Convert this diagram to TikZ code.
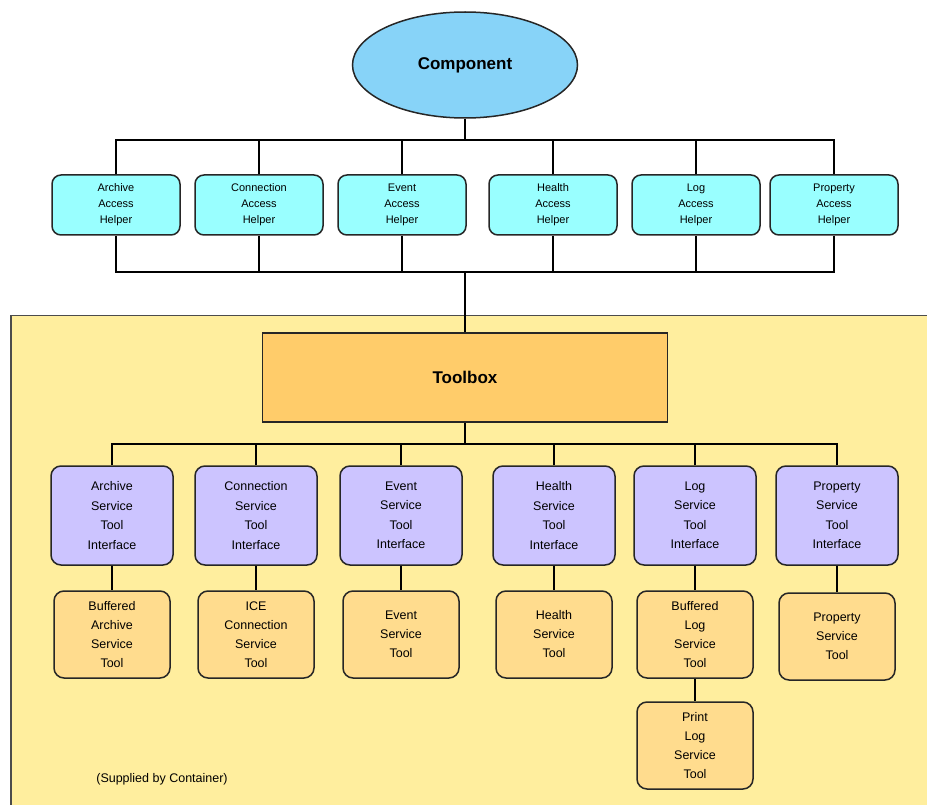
\documentclass[tikz,border=0pt]{standalone}
\usepackage{fontspec}
\setmainfont{Liberation Sans}
\usetikzlibrary{positioning, shapes.geometric}

\definecolor{compblue}{HTML}{87D3F8}
\definecolor{helpcyan}{HTML}{99FFFF}
\definecolor{ifacelav}{HTML}{CCC4FF}
\definecolor{toolorange}{HTML}{FFDC8E}
\definecolor{boxorange}{HTML}{FFCC6A}
\definecolor{contyellow}{HTML}{FFEE9E}

\begin{document}
\begin{tikzpicture}[x=1pt, y=-1pt,
        helper/.style={draw=black!85, fill=helpcyan, rounded corners=9pt, line width=1.5pt,
            minimum width=128pt, minimum height=60pt, align=center, inner sep=1pt,
            font=\fontsize{11}{16}\selectfont},
        iface/.style={draw=black!85, fill=ifacelav, rounded corners=10pt, line width=1.5pt,
            minimum width=122pt, minimum height=99pt, align=center, inner sep=1pt,
            font=\fontsize{12.5}{19.5}\selectfont},
        tool/.style={draw=black!85, fill=toolorange, rounded corners=10pt, line width=1.5pt,
            minimum width=116pt, minimum height=87pt, align=center, inner sep=1pt,
            font=\fontsize{12.5}{19}\selectfont},
        line/.style={draw=black, line width=1.6pt}
    ]
        \useasboundingbox (0,0) rectangle (927,805);
        \clip (0,0) rectangle (927,805);

        % === Container area ===
        \node[draw=black!70, fill=contyellow, line width=1.5pt, minimum width=940pt, minimum height=520pt,
            anchor=north west, inner sep=0pt] (cont) at (10,315) {};
        \node[font=\fontsize{12.5}{14}\selectfont] (supp) at (162,779) {(Supplied by Container)};

        % === Component and access helpers ===
        \node[ellipse, draw=black!85, fill=compblue, line width=1.5pt, minimum width=225pt, minimum height=106pt,
            font=\fontsize{17}{20}\selectfont\bfseries] (comp) at (465,65) {Component};

        \node[helper] (hArch) at (116,205) {Archive\\Access\\Helper};
        \node[helper] (hConn) at (259,205) {Connection\\Access\\Helper};
        \node[helper] (hEvt)  at (402,205) {Event\\Access\\Helper};
        \node[helper] (hHlth) at (553,205) {Health\\Access\\Helper};
        \node[helper] (hLog)  at (696,205) {Log\\Access\\Helper};
        \node[helper] (hProp) at (834,205) {Property\\Access\\Helper};

        \coordinate (topbus) at (465,140);
        \coordinate (midbus) at (465,272);
        \draw[line] (comp.south) -- (topbus);
        \foreach \h in {hArch,hConn,hEvt,hHlth,hLog,hProp} {
            \draw[line] (\h.north) |- (topbus);
            \draw[line] (\h.south) |- (midbus);
        }

        % === Toolbox ===
        \node[draw=black!85, fill=boxorange, line width=1.5pt, minimum width=405pt, minimum height=89pt,
            font=\fontsize{17}{20}\selectfont\bfseries] (tbox) at (465,377.5) {Toolbox};
        \draw[line] (midbus) -- (tbox.north);

        % Service tool interfaces
        \node[iface] (iArch) at (112,515.5) {Archive\\Service\\Tool\\Interface};
        \node[iface] (iConn) at (256,515.5) {Connection\\Service\\Tool\\Interface};
        \node[iface] (iEvt)  at (401,515.5) {Event\\Service\\Tool\\Interface};
        \node[iface] (iHlth) at (554,515.5) {Health\\Service\\Tool\\Interface};
        \node[iface] (iLog)  at (695,515.5) {Log\\Service\\Tool\\Interface};
        \node[iface] (iProp) at (837,515.5) {Property\\Service\\Tool\\Interface};

        \coordinate (lowbus) at (465,444);
        \draw[line] (tbox.south) -- (lowbus);
        \foreach \i in {iArch,iConn,iEvt,iHlth,iLog,iProp}
            \draw[line] (\i.north) |- (lowbus);

        % Service tools
        \node[tool] (tArch) at (112,634.5) {Buffered\\Archive\\Service\\Tool};
        \node[tool] (tConn) at (256,634.5) {ICE\\Connection\\Service\\Tool};
        \node[tool] (tEvt)  at (401,634.5) {Event\\Service\\Tool};
        \node[tool] (tHlth) at (554,634.5) {Health\\Service\\Tool};
        \node[tool] (tLog)  at (695,634.5) {Buffered\\Log\\Service\\Tool};
        \node[tool] (tProp) at (837,636.5) {Property\\Service\\Tool};
        \node[tool] (tPrint) at (695,745.5) {Print\\Log\\Service\\Tool};

        \draw[line] (iArch) -- (tArch);
        \draw[line] (iConn) -- (tConn);
        \draw[line] (iEvt) -- (tEvt);
        \draw[line] (iHlth) -- (tHlth);
        \draw[line] (iLog) -- (tLog);
        \draw[line] (iProp) -- (tProp);
        \draw[line] (tLog) -- (tPrint);

    \end{tikzpicture}
\end{document}
